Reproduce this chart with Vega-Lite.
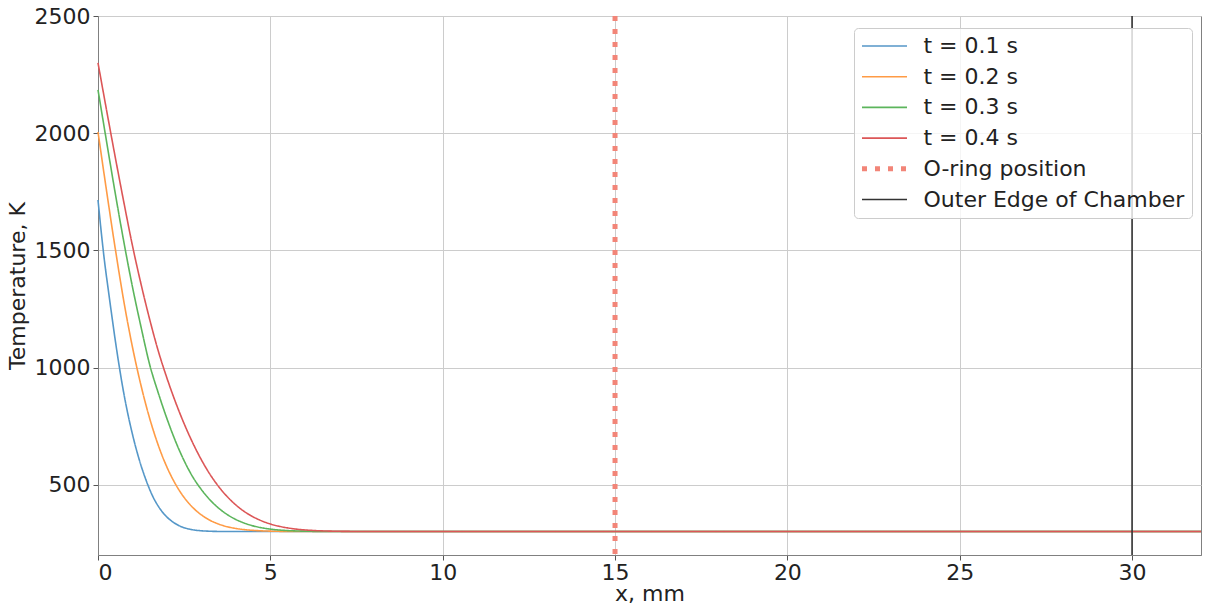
{
  "$schema": "https://vega.github.io/schema/vega-lite/v6.json",
  "width": 1103,
  "height": 539,
  "autosize": {"type": "none"},
  "padding": {"left": 98, "top": 16, "right": 10, "bottom": 50},
  "background": "white",
  "config": {
    "font": "DejaVu Sans",
    "view": {"stroke": "#808080", "strokeWidth": 1},
    "axis": {
      "labelFont": "DejaVu Sans", "labelFontSize": 22, "labelColor": "#222222",
      "titleFont": "DejaVu Sans", "titleFontSize": 22, "titleFontWeight": "normal", "titleColor": "#222222",
      "domainColor": "#808080", "domainWidth": 1, "tickColor": "#555555", "tickSize": 5, "tickWidth": 1,
      "gridColor": "#cccccc", "gridWidth": 1
    },
    "legend": {
      "labelFontSize": 22, "labelFont": "DejaVu Sans", "labelColor": "#222222", "labelLimit": 500,
      "symbolType": "M-4.5,0L4.5,0", "symbolSize": 100, "symbolStrokeWidth": 1.6, "symbolOffset": 12.5,
      "labelOffset": 28, "rowPadding": 8.7, "padding": 7,
      "fillColor": "rgba(255,255,255,0.8)", "strokeColor": "#cccccc", "cornerRadius": 4
    }
  },
  "datasets": {
    "curves": [
      {"series": "t = 0.1 s", "x": 0, "temperature": 1715},
      {"series": "t = 0.1 s", "x": 0.1, "temperature": 1570},
      {"series": "t = 0.1 s", "x": 0.2, "temperature": 1440},
      {"series": "t = 0.1 s", "x": 0.3, "temperature": 1330},
      {"series": "t = 0.1 s", "x": 0.4, "temperature": 1222},
      {"series": "t = 0.1 s", "x": 0.5, "temperature": 1117},
      {"series": "t = 0.1 s", "x": 0.6, "temperature": 1020},
      {"series": "t = 0.1 s", "x": 0.7, "temperature": 930},
      {"series": "t = 0.1 s", "x": 0.8, "temperature": 850},
      {"series": "t = 0.1 s", "x": 1.0, "temperature": 715},
      {"series": "t = 0.1 s", "x": 1.2, "temperature": 605},
      {"series": "t = 0.1 s", "x": 1.4, "temperature": 517},
      {"series": "t = 0.1 s", "x": 1.6, "temperature": 447},
      {"series": "t = 0.1 s", "x": 1.8, "temperature": 397},
      {"series": "t = 0.1 s", "x": 2.0, "temperature": 362},
      {"series": "t = 0.1 s", "x": 2.2, "temperature": 338},
      {"series": "t = 0.1 s", "x": 2.4, "temperature": 322},
      {"series": "t = 0.1 s", "x": 2.6, "temperature": 312},
      {"series": "t = 0.1 s", "x": 2.8, "temperature": 306.5},
      {"series": "t = 0.1 s", "x": 3.0, "temperature": 303.3},
      {"series": "t = 0.1 s", "x": 3.25, "temperature": 301.4},
      {"series": "t = 0.1 s", "x": 3.5, "temperature": 300.5},
      {"series": "t = 0.1 s", "x": 4.0, "temperature": 300},
      {"series": "t = 0.1 s", "x": 10, "temperature": 300},
      {"series": "t = 0.1 s", "x": 20, "temperature": 300},
      {"series": "t = 0.1 s", "x": 32, "temperature": 300},

      {"series": "t = 0.2 s", "x": 0, "temperature": 2005},
      {"series": "t = 0.2 s", "x": 0.25, "temperature": 1752},
      {"series": "t = 0.2 s", "x": 0.5, "temperature": 1508},
      {"series": "t = 0.2 s", "x": 0.75, "temperature": 1282},
      {"series": "t = 0.2 s", "x": 1.0, "temperature": 1087},
      {"series": "t = 0.2 s", "x": 1.25, "temperature": 922},
      {"series": "t = 0.2 s", "x": 1.5, "temperature": 782.5},
      {"series": "t = 0.2 s", "x": 1.75, "temperature": 667.7},
      {"series": "t = 0.2 s", "x": 2.0, "temperature": 575},
      {"series": "t = 0.2 s", "x": 2.25, "temperature": 502},
      {"series": "t = 0.2 s", "x": 2.5, "temperature": 445.3},
      {"series": "t = 0.2 s", "x": 2.75, "temperature": 402.6},
      {"series": "t = 0.2 s", "x": 3.0, "temperature": 371},
      {"series": "t = 0.2 s", "x": 3.25, "temperature": 348.1},
      {"series": "t = 0.2 s", "x": 3.5, "temperature": 331.9},
      {"series": "t = 0.2 s", "x": 3.75, "temperature": 320.8},
      {"series": "t = 0.2 s", "x": 4.0, "temperature": 313.3},
      {"series": "t = 0.2 s", "x": 4.25, "temperature": 308.3},
      {"series": "t = 0.2 s", "x": 4.5, "temperature": 305.1},
      {"series": "t = 0.2 s", "x": 4.75, "temperature": 303.1},
      {"series": "t = 0.2 s", "x": 5.0, "temperature": 301.8},
      {"series": "t = 0.2 s", "x": 5.5, "temperature": 300.6},
      {"series": "t = 0.2 s", "x": 6.0, "temperature": 300.2},
      {"series": "t = 0.2 s", "x": 7.0, "temperature": 300},
      {"series": "t = 0.2 s", "x": 10, "temperature": 300},
      {"series": "t = 0.2 s", "x": 20, "temperature": 300},
      {"series": "t = 0.2 s", "x": 32, "temperature": 300},

      {"series": "t = 0.3 s", "x": 0, "temperature": 2185},
      {"series": "t = 0.3 s", "x": 0.25, "temperature": 1963},
      {"series": "t = 0.3 s", "x": 0.5, "temperature": 1744},
      {"series": "t = 0.3 s", "x": 0.75, "temperature": 1536},
      {"series": "t = 0.3 s", "x": 1.0, "temperature": 1344},
      {"series": "t = 0.3 s", "x": 1.25, "temperature": 1172},
      {"series": "t = 0.3 s", "x": 1.5, "temperature": 1012},
      {"series": "t = 0.3 s", "x": 1.75, "temperature": 891},
      {"series": "t = 0.3 s", "x": 2.0, "temperature": 782},
      {"series": "t = 0.3 s", "x": 2.25, "temperature": 685},
      {"series": "t = 0.3 s", "x": 2.5, "temperature": 602},
      {"series": "t = 0.3 s", "x": 2.75, "temperature": 533},
      {"series": "t = 0.3 s", "x": 3.0, "temperature": 479},
      {"series": "t = 0.3 s", "x": 3.25, "temperature": 435},
      {"series": "t = 0.3 s", "x": 3.5, "temperature": 400},
      {"series": "t = 0.3 s", "x": 3.75, "temperature": 372.5},
      {"series": "t = 0.3 s", "x": 4.0, "temperature": 351.5},
      {"series": "t = 0.3 s", "x": 4.25, "temperature": 335.8},
      {"series": "t = 0.3 s", "x": 4.5, "temperature": 324.3},
      {"series": "t = 0.3 s", "x": 4.75, "temperature": 316.2},
      {"series": "t = 0.3 s", "x": 5.0, "temperature": 310.5},
      {"series": "t = 0.3 s", "x": 5.25, "temperature": 306.7},
      {"series": "t = 0.3 s", "x": 5.5, "temperature": 304.2},
      {"series": "t = 0.3 s", "x": 5.75, "temperature": 302.6},
      {"series": "t = 0.3 s", "x": 6.0, "temperature": 301.6},
      {"series": "t = 0.3 s", "x": 6.5, "temperature": 300.5},
      {"series": "t = 0.3 s", "x": 7.0, "temperature": 300.15},
      {"series": "t = 0.3 s", "x": 8.0, "temperature": 300},
      {"series": "t = 0.3 s", "x": 10, "temperature": 300},
      {"series": "t = 0.3 s", "x": 20, "temperature": 300},
      {"series": "t = 0.3 s", "x": 32, "temperature": 300},

      {"series": "t = 0.4 s", "x": 0, "temperature": 2300},
      {"series": "t = 0.4 s", "x": 0.25, "temperature": 2097},
      {"series": "t = 0.4 s", "x": 0.5, "temperature": 1898},
      {"series": "t = 0.4 s", "x": 0.75, "temperature": 1705},
      {"series": "t = 0.4 s", "x": 1.0, "temperature": 1520},
      {"series": "t = 0.4 s", "x": 1.25, "temperature": 1355},
      {"series": "t = 0.4 s", "x": 1.5, "temperature": 1205},
      {"series": "t = 0.4 s", "x": 1.75, "temperature": 1070},
      {"series": "t = 0.4 s", "x": 2.0, "temperature": 955},
      {"series": "t = 0.4 s", "x": 2.25, "temperature": 852},
      {"series": "t = 0.4 s", "x": 2.5, "temperature": 760},
      {"series": "t = 0.4 s", "x": 2.75, "temperature": 678},
      {"series": "t = 0.4 s", "x": 3.0, "temperature": 606},
      {"series": "t = 0.4 s", "x": 3.25, "temperature": 544},
      {"series": "t = 0.4 s", "x": 3.5, "temperature": 492},
      {"series": "t = 0.4 s", "x": 3.75, "temperature": 449},
      {"series": "t = 0.4 s", "x": 4.0, "temperature": 413.5},
      {"series": "t = 0.4 s", "x": 4.25, "temperature": 385},
      {"series": "t = 0.4 s", "x": 4.5, "temperature": 362.8},
      {"series": "t = 0.4 s", "x": 4.75, "temperature": 345.6},
      {"series": "t = 0.4 s", "x": 5.0, "temperature": 332.5},
      {"series": "t = 0.4 s", "x": 5.25, "temperature": 322.8},
      {"series": "t = 0.4 s", "x": 5.5, "temperature": 315.7},
      {"series": "t = 0.4 s", "x": 5.75, "temperature": 310.6},
      {"series": "t = 0.4 s", "x": 6.0, "temperature": 307},
      {"series": "t = 0.4 s", "x": 6.25, "temperature": 304.6},
      {"series": "t = 0.4 s", "x": 6.5, "temperature": 302.9},
      {"series": "t = 0.4 s", "x": 7.0, "temperature": 301.1},
      {"series": "t = 0.4 s", "x": 7.5, "temperature": 300.4},
      {"series": "t = 0.4 s", "x": 8.0, "temperature": 300.1},
      {"series": "t = 0.4 s", "x": 10, "temperature": 300},
      {"series": "t = 0.4 s", "x": 20, "temperature": 300},
      {"series": "t = 0.4 s", "x": 32, "temperature": 300}
    ],
    "markers": [
      {"series": "O-ring position", "x": 15},
      {"series": "Outer Edge of Chamber", "x": 30}
    ]
  },
  "encoding": {
    "x": {
      "field": "x", "type": "quantitative",
      "scale": {"domain": [0, 32], "nice": false, "zero": false},
      "axis": {"title": "x, mm", "values": [0, 5, 10, 15, 20, 25, 30], "format": "d", "labelPadding": 2, "titlePadding": 0}
    },
    "color": {
      "field": "series", "type": "nominal",
      "scale": {
        "domain": ["t = 0.1 s", "t = 0.2 s", "t = 0.3 s", "t = 0.4 s", "O-ring position", "Outer Edge of Chamber"],
        "range": ["#5597c8", "#ff9b45", "#5cb55c", "#dc5657", "#f28578", "#333333"]
      },
      "legend": {"title": null, "orient": "none", "legendX": 756, "legendY": 12}
    },
    "strokeDash": {
      "field": "series", "type": "nominal",
      "scale": {
        "domain": ["t = 0.1 s", "t = 0.2 s", "t = 0.3 s", "t = 0.4 s", "O-ring position", "Outer Edge of Chamber"],
        "range": [[1, 0], [1, 0], [1, 0], [1, 0], [5, 8], [1, 0]]
      },
      "legend": {"title": null, "orient": "none", "legendX": 756, "legendY": 12}
    },
    "strokeWidth": {
      "field": "series", "type": "nominal",
      "scale": {
        "type": "ordinal",
        "domain": ["t = 0.1 s", "t = 0.2 s", "t = 0.3 s", "t = 0.4 s", "O-ring position", "Outer Edge of Chamber"],
        "range": [1.6, 1.6, 1.6, 1.6, 5, 1.6]
      },
      "legend": {"title": null, "orient": "none", "legendX": 756, "legendY": 12}
    }
  },
  "layer": [
    {
      "data": {"name": "curves"},
      "mark": {"type": "line", "interpolate": "monotone"},
      "encoding": {
        "y": {
          "field": "temperature", "type": "quantitative",
          "scale": {"domain": [200, 2500], "nice": false, "zero": false},
          "axis": {"title": "Temperature, K", "values": [500, 1000, 1500, 2000, 2500], "format": "d", "labelPadding": 3, "titlePadding": 5}
        }
      }
    },
    {
      "data": {"name": "markers"},
      "mark": {"type": "rule"},
      "encoding": {}
    }
  ]
}
